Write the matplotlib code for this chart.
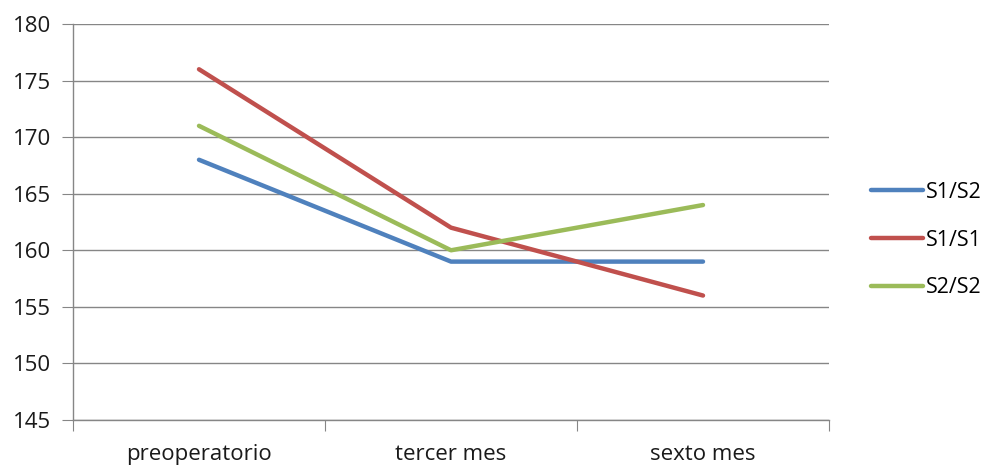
import matplotlib
matplotlib.use("Agg")
import matplotlib.pyplot as plt
from matplotlib.ticker import FixedLocator, NullFormatter

categories = ["preoperatorio", "tercer mes", "sexto mes"]
series_names = ["S1/S2", "S1/S1", "S2/S2"]
s1s2 = [168, 159, 159]
s1s1 = [176, 162, 156]
s2s2 = [171, 160, 164]
yticks = [145, 150, 155, 160, 165, 170, 175, 180]
colors = ["#4F81BD", "#C0504D", "#9BBB59"]

plt.rcParams['font.family'] = ['Open Sans', 'DejaVu Sans']

fig = plt.figure(figsize=(9.91, 4.68), dpi=100)
ax = fig.add_axes([73/991, 1-420/468, (829-73)/991, (420-24)/468])

xs = [i + 0.5 for i in range(len(categories))]
for vals, name, c in zip([s1s2, s1s1, s2s2], series_names, colors):
    ax.plot(xs, vals, color=c, lw=3.2, label=name, solid_capstyle='round')

ax.set_xlim(0, len(categories))
ax.set_ylim(yticks[0], yticks[-1])
ax.set_yticks(yticks)
ax.yaxis.grid(True, color="#868686", lw=1)
ax.set_axisbelow(True)

ax.xaxis.set_major_locator(FixedLocator(range(len(categories) + 1)))
ax.xaxis.set_major_formatter(NullFormatter())
ax.set_xticks(xs, minor=True)
ax.set_xticklabels(categories, minor=True)
ax.tick_params(axis='x', which='minor', length=0, pad=17, labelsize=16, colors='#1a1a1a')
ax.tick_params(axis='x', which='major', length=8, color="#868686")
ax.tick_params(axis='y', length=8, color="#868686", labelsize=16, labelcolor='#1a1a1a', pad=8)

for s in ['top', 'right']:
    ax.spines[s].set_visible(False)
for s in ['left', 'bottom']:
    ax.spines[s].set_color("#868686")
    ax.spines[s].set_linewidth(1)

fig.legend(loc='center left', bbox_to_anchor=(862/991, 1-240/468), frameon=False,
           fontsize=15.5, handlelength=2.45, handletextpad=0.1, labelspacing=1.25,
           borderaxespad=0)

fig.savefig("out.png", dpi=100)
